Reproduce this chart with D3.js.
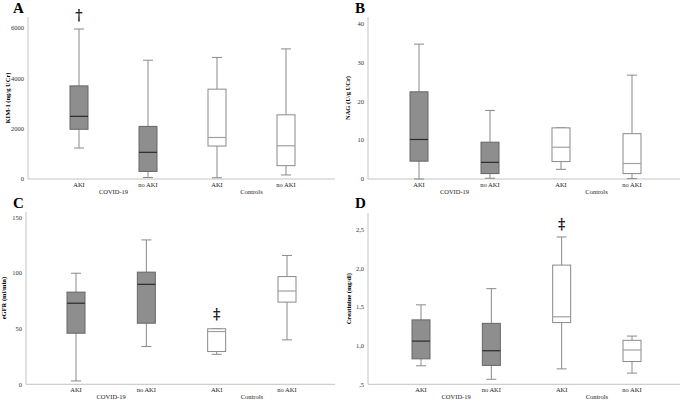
<!DOCTYPE html>
<html lang="en">
<head>
<meta charset="UTF-8">
<title>Kidney markers box plots</title>
<script src="https://d3js.org/d3.v7.min.js"></script>
<style>
  body { margin: 0; background: #fff; }
  svg { display: block; font-family: "Liberation Serif", "Times New Roman", serif; }
</style>
</head>
<body>
<svg id="chart" width="685" height="401"></svg>
<script>
// categories
const groups = ["COVID-19", "Controls"];
const subs = ["AKI", "no AKI"];

// box stats per box: [low whisker, q1, median, q3, high whisker]
const kim1 = [[1230, 1975, 2490, 3700, 5960], [60, 300, 1060, 2090, 4720], [50, 1310, 1650, 3570, 4830], [160, 530, 1320, 2550, 5170]];
const nag = [[0, 4.6, 10.2, 22.5, 34.8], [0.2, 1.4, 4.3, 9.5, 17.7], [2.5, 4.5, 8.2, 13.2, 13.2], [0.1, 1.4, 4.0, 11.7, 26.8]];
const egfr = [[3, 46, 73, 83, 100], [34, 55, 90, 101, 130], [27, 29.5, 47.5, 50, 50], [40, 74, 84, 97, 116]];
const creat = [[0.74, 0.83, 1.06, 1.335, 1.53], [0.565, 0.745, 0.935, 1.29, 1.74], [0.70, 1.30, 1.375, 2.045, 2.41], [0.645, 0.795, 0.945, 1.07, 1.125]];

// tick labels
const ticksA = [0, 2000, 4000, 6000];
const ticksB = [0, 10, 20, 30, 40];
const ticksC = [0, 50, 100, 150];
const ticksD = [0.5, 1.0, 1.5, 2.0, 2.5];

// significance marks: [box index, symbol, value]
const marksA = [[0, "\u2020", 6500]];
const marksC = [[2, "\u2021", 63]];
const marksD = [[2, "\u2021", 2.575]];

const panels = [
  { letter: "A", label: "KIM-1 (ng/g UCr)", data: kim1, ticks: ticksA, marks: marksA,
    fmt: d3.format("d"), domain: [0, 6000], yr: [179, 28], top: 17,
    x0: 28, x1: 335, xr: [79, 286], lx: 10, ox: 0, oy: 0 },
  { letter: "B", label: "NAG (U/g UCr)", data: nag, ticks: ticksB, marks: [],
    fmt: d3.format("d"), domain: [0, 40], yr: [179, 24], top: 17,
    x0: 28, x1: 340, xr: [79, 292], lx: 10, ox: 340, oy: 0 },
  { letter: "C", label: "eGFR (ml/min)", data: egfr, ticks: ticksC, marks: marksC,
    fmt: d3.format("d"), domain: [0, 150], yr: [189.3, 22.7], top: 17,
    x0: 26, x1: 335, xr: [76, 287], lx: 6, ox: 0, oy: 195 },
  { letter: "D", label: "Creatinine (mg/dl)", data: creat, ticks: ticksD, marks: marksD,
    fmt: d => d3.format(".1f")(d).replace(".", ",").replace(/^0/, ""), domain: [0.5, 2.5], yr: [189.3, 35], top: 18,
    x0: 28, x1: 340, xr: [81, 292], lx: 11, ox: 340, oy: 195 }
];

const svg = d3.select("#chart");
const keys = d3.cross(groups, subs).map(d => d.join("|"));

panels.forEach(p => {
  const g = svg.append("g").attr("transform", `translate(${p.ox},${p.oy})`);
  const y = d3.scaleLinear().domain(p.domain).range(p.yr);
  const x = d3.scalePoint().domain(keys).range(p.xr);
  const base = p.yr[0];

  // panel letter
  g.append("text").attr("x", p.ox ? 15 : 13).attr("y", 13)
    .attr("font-size", 15).attr("font-weight", "bold").text(p.letter);

  // axes lines
  g.append("line").attr("x1", p.x0).attr("x2", p.x0).attr("y1", p.top).attr("y2", base)
    .attr("stroke", "#c4c4c4").attr("stroke-width", 1);
  g.append("line").attr("x1", p.x0).attr("x2", p.x1).attr("y1", base).attr("y2", base)
    .attr("stroke", "#c4c4c4").attr("stroke-width", 1);

  // y ticks
  g.selectAll(".yt").data(p.ticks).join("text")
    .attr("x", p.x0 - 4).attr("y", d => y(d) + 2.2)
    .attr("text-anchor", "end").attr("font-size", 6.5).attr("fill", "#333")
    .text(p.fmt);

  // y label
  g.append("text")
    .attr("transform", `translate(${p.lx},${(p.top + base) / 2}) rotate(-90)`)
    .attr("text-anchor", "middle").attr("font-size", 6.5).attr("font-weight", "bold")
    .text(p.label);

  // x category labels
  g.selectAll(".xt").data(keys).join("text")
    .attr("x", d => x(d)).attr("y", base + 8)
    .attr("text-anchor", "middle").attr("font-size", 6.5).attr("fill", "#222")
    .text(d => d.split("|")[1]);
  groups.forEach(gr => {
    const mid = (x(gr + "|" + subs[0]) + x(gr + "|" + subs[1])) / 2;
    g.append("text").attr("x", mid).attr("y", base + 14.5)
      .attr("text-anchor", "middle").attr("font-size", 6.5).attr("fill", "#222").text(gr);
  });

  // boxes
  const bw = 18, cw = 10;
  p.data.forEach((s, i) => {
    const cx = x(keys[i]);
    const covid = keys[i].startsWith(groups[0]);
    const [lo, q1, md, q3, hi] = s;
    const wc = "#8a8a8a";
    const bx = g.append("g");
    bx.append("line").attr("x1", cx).attr("x2", cx).attr("y1", y(lo)).attr("y2", y(q1)).attr("stroke", wc);
    bx.append("line").attr("x1", cx).attr("x2", cx).attr("y1", y(q3)).attr("y2", y(hi)).attr("stroke", wc);
    bx.append("line").attr("x1", cx - cw / 2).attr("x2", cx + cw / 2).attr("y1", y(lo)).attr("y2", y(lo)).attr("stroke", wc);
    bx.append("line").attr("x1", cx - cw / 2).attr("x2", cx + cw / 2).attr("y1", y(hi)).attr("y2", y(hi)).attr("stroke", wc);
    bx.append("rect").attr("x", cx - bw / 2).attr("width", bw)
      .attr("y", y(q3)).attr("height", y(q1) - y(q3))
      .attr("fill", covid ? "#8e8e8e" : "#fff")
      .attr("stroke", covid ? "#666" : "#8a8a8a").attr("stroke-width", 1);
    bx.append("line").attr("x1", cx - bw / 2).attr("x2", cx + bw / 2)
      .attr("y1", y(md)).attr("y2", y(md))
      .attr("stroke", covid ? "#2a2a2a" : "#a0a0a0").attr("stroke-width", 1.2);
  });

  // significance marks
  p.marks.forEach(([i, sym, v]) => {
    g.append("text").attr("x", x(keys[i])).attr("y", y(v) + 5)
      .attr("text-anchor", "middle").attr("font-size", 14).attr("font-weight", "bold")
      .attr("font-family", "DejaVu Serif").attr("fill", "#111").text(sym);
  });
});
</script>
</body>
</html>
